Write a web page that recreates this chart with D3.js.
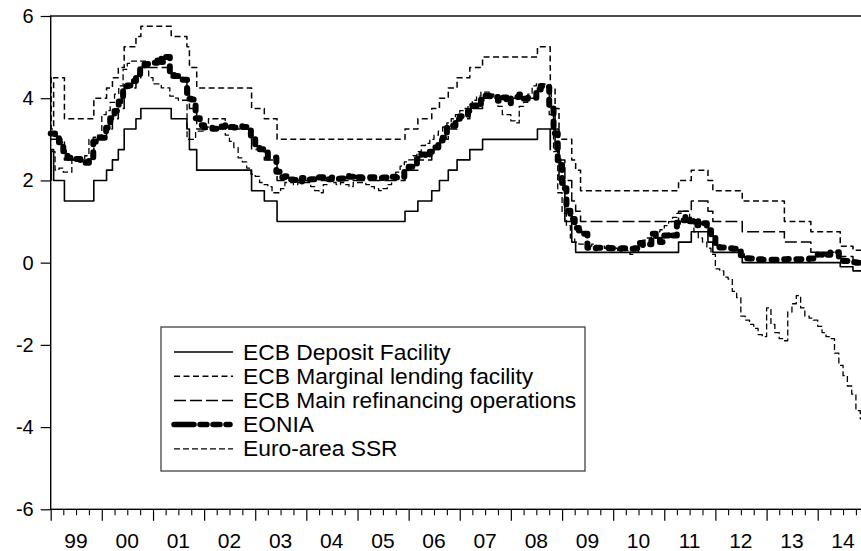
<!DOCTYPE html>
<html>
<head>
<meta charset="utf-8">
<script src="https://cdn.jsdelivr.net/npm/d3@7"></script>
<style>
  html, body { margin: 0; padding: 0; background: #fff; overflow: hidden; }
  svg { display: block; }
  text { font-family: Arial, "Liberation Sans", sans-serif; fill: #000; }
</style>
</head>
<body>
<svg id="chart" width="861" height="551"></svg>
<script>
// ECB policy rate corridor: dates on which any of the three rates changed
const policyDates = [
  "1999-01-01","1999-01-04","1999-01-22","1999-04-09","1999-11-05",
  "2000-02-04","2000-03-17","2000-04-28","2000-06-09","2000-09-01","2000-10-06",
  "2001-05-11","2001-08-31","2001-09-18","2001-11-09",
  "2002-12-06","2003-03-07","2003-06-06",
  "2005-12-06","2006-03-08","2006-06-15","2006-08-09","2006-10-11","2006-12-13",
  "2007-03-14","2007-06-13","2008-07-09","2008-10-08","2008-10-09","2008-10-15",
  "2008-11-12","2008-12-10","2009-01-21","2009-03-11","2009-04-08","2009-05-13",
  "2011-04-13","2011-07-13","2011-11-09","2011-12-14","2012-07-11",
  "2013-05-08","2013-11-13","2014-06-11","2014-09-10","2014-12-31"
];
const depositFacility = [
  2.00,2.75,2.00,1.50,2.00,
  2.25,2.50,2.75,3.25,3.50,3.75,
  3.50,3.25,2.75,2.25,
  1.75,1.50,1.00,
  1.25,1.50,1.75,2.00,2.25,2.50,
  2.75,3.00,3.25,2.75,3.25,3.25,
  2.75,2.00,1.00,0.50,0.25,0.25,
  0.50,0.75,0.50,0.25,0.00,
  0.00,0.00,-0.10,-0.20,-0.20
];
const marginalLending = [
  4.50,3.25,4.50,3.50,4.00,
  4.25,4.50,4.75,5.25,5.50,5.75,
  5.50,5.25,4.75,4.25,
  3.75,3.50,3.00,
  3.25,3.50,3.75,4.00,4.25,4.50,
  4.75,5.00,5.25,4.75,4.25,4.25,
  3.75,3.00,3.00,2.50,2.25,1.75,
  2.00,2.25,2.00,1.75,1.50,
  1.00,0.75,0.40,0.30,0.30
];
const mainRefinancing = [
  3.00,3.00,3.00,2.50,3.00,
  3.25,3.50,3.75,4.25,4.50,4.75,
  4.50,4.25,3.75,3.25,
  2.75,2.50,2.00,
  2.25,2.50,2.75,3.00,3.25,3.50,
  3.75,4.00,4.25,4.25,4.25,3.75,
  3.25,2.50,2.00,1.50,1.25,1.00,
  1.25,1.50,1.25,1.00,0.75,
  0.50,0.25,0.15,0.05,0.05
];

// Monthly series, January 1999 onwards
const seriesStart = "1999-01-01";
const eonia = [
  3.14,3.12,2.93,2.71,2.55,2.56,2.52,2.44,2.43,2.50,2.94,3.04,
  3.04,3.28,3.51,3.69,3.92,4.29,4.31,4.42,4.59,4.76,4.83,4.83,
  4.86,4.99,4.88,5.00,4.65,4.54,4.51,4.45,3.99,3.97,3.51,3.34,
  3.29,3.28,3.26,3.32,3.31,3.35,3.30,3.29,3.32,3.30,3.30,3.09,
  2.79,2.76,2.75,2.56,2.56,2.21,2.08,2.10,2.02,2.01,1.97,2.06,
  2.02,2.03,2.01,2.08,2.02,2.03,2.07,2.04,2.05,2.11,2.09,2.05,
  2.08,2.06,2.06,2.08,2.07,2.06,2.07,2.06,2.09,2.07,2.09,2.28,
  2.33,2.35,2.52,2.63,2.58,2.70,2.81,2.97,3.04,3.28,3.33,3.50,
  3.56,3.57,3.69,3.82,3.79,3.96,4.06,4.05,4.03,3.94,4.02,3.88,
  4.02,4.03,4.09,3.99,4.01,4.01,4.19,4.30,4.27,3.82,3.15,2.49,
  1.81,1.26,1.06,0.84,0.78,0.70,0.36,0.35,0.36,0.36,0.36,0.35,
  0.34,0.34,0.35,0.35,0.34,0.35,0.48,0.43,0.45,0.70,0.59,0.50,
  0.66,0.71,0.66,0.97,1.03,1.12,1.01,0.91,1.01,0.96,0.79,0.63,
  0.38,0.37,0.36,0.35,0.34,0.33,0.18,0.11,0.10,0.09,0.08,0.07,
  0.07,0.07,0.07,0.08,0.08,0.09,0.09,0.08,0.08,0.09,0.10,0.17,
  0.20,0.16,0.19,0.25,0.25,0.08,0.04,0.02,0.01,0.00,-0.01,-0.03
];
const shadowRate = [
  2.70,2.25,2.30,2.20,2.20,2.50,2.50,2.50,2.60,3.00,3.05,3.10,
  3.60,3.70,3.90,4.10,4.30,4.70,4.85,4.90,4.90,4.90,4.90,4.50,
  4.35,4.35,4.25,4.25,4.05,4.00,3.95,3.95,3.00,3.00,3.20,3.20,
  3.30,3.50,3.50,3.50,3.50,3.10,2.95,2.80,2.55,2.45,2.30,2.15,
  2.10,1.95,1.90,1.85,1.70,1.70,1.80,1.95,1.95,1.90,1.95,1.95,
  1.95,1.85,1.75,1.70,1.90,2.00,1.95,1.90,1.95,1.90,1.85,1.95,
  1.95,1.95,1.90,1.85,1.80,1.75,1.80,1.90,2.00,2.20,2.35,2.45,
  2.50,2.60,2.70,2.85,2.90,3.00,3.10,3.20,3.30,3.40,3.50,3.60,
  3.70,3.75,3.85,3.95,4.05,4.15,4.15,4.10,4.00,3.80,3.60,3.60,
  3.45,3.40,3.80,3.90,4.10,4.30,4.35,4.35,4.30,3.60,2.70,1.70,
  1.20,0.90,0.60,0.50,0.45,0.50,0.40,0.45,0.40,0.40,0.35,0.40,
  0.35,0.30,0.30,0.30,0.20,0.25,0.45,0.55,0.60,0.75,0.75,0.80,
  0.90,1.00,1.10,1.20,1.25,1.25,1.10,0.75,0.60,0.50,0.35,0.20,
  -0.15,-0.20,-0.35,-0.40,-0.70,-0.85,-1.30,-1.40,-1.50,-1.60,-1.75,-1.80,
  -1.10,-1.50,-1.70,-1.85,-1.90,-1.20,-1.00,-0.80,-1.10,-1.30,-1.35,-1.40,
  -1.55,-1.70,-1.80,-1.85,-2.20,-2.50,-2.75,-3.00,-3.20,-3.60,-3.80,-3.90
];

const yearLabels = ["99","00","01","02","03","04","05","06","07","08","09","10","11","12","13","14"];
const yTicks = [-6,-4,-2,0,2,4,6];

const legendItems = [
  { label: "ECB Deposit Facility", key: "df" },
  { label: "ECB Marginal lending facility", key: "mlf" },
  { label: "ECB Main refinancing operations", key: "mro" },
  { label: "EONIA", key: "eonia" },
  { label: "Euro-area SSR", key: "ssr" }
];

const styles = {
  df:    { width: 1.6, dash: null, cap: "butt" },
  mlf:   { width: 1.5, dash: "6,3.5", cap: "butt" },
  mro:   { width: 1.5, dash: "12,4", cap: "butt" },
  eonia: { width: 6, dash: "5,8", cap: "round" },
  ssr:   { width: 1.3, dash: "6,3", cap: "butt" }
};

const parse = d3.timeParse("%Y-%m-%d");
const svg = d3.select("#chart");

const plotLeft = 50.7, plotTop = 16, plotRight = 868.8, plotBottom = 509.3;

const x = d3.scaleTime()
  .domain([parse("1999-01-01"), parse("2015-01-01")])
  .range([plotLeft, plotRight]);
const y = d3.scaleLinear().domain([-6, 6]).range([plotBottom, plotTop]);

const policyX = policyDates.map(parse);
const monthX = eonia.map((_, i) => d3.timeMonth.offset(parse(seriesStart), i));

const series = {
  df:    policyX.map((d, i) => [d, depositFacility[i]]),
  mlf:   policyX.map((d, i) => [d, marginalLending[i]]),
  mro:   policyX.map((d, i) => [d, mainRefinancing[i]]),
  eonia: monthX.map((d, i) => [d, eonia[i]]),
  ssr:   monthX.map((d, i) => [d, shadowRate[i]])
};

const line = d3.line()
  .x(d => x(d[0]))
  .y(d => y(d[1]))
  .curve(d3.curveStepAfter);

const plot = svg.append("g");
["df", "mlf", "mro", "eonia", "ssr"].forEach(k => {
  const s = styles[k];
  plot.append("path")
    .datum(series[k])
    .attr("d", line)
    .attr("fill", "none")
    .attr("stroke", "#000")
    .attr("stroke-width", s.width)
    .attr("stroke-dasharray", s.dash)
    .attr("stroke-linecap", s.cap)
    .attr("stroke-linejoin", "round");
});

// frame
svg.append("rect")
  .attr("x", plotLeft).attr("y", plotTop)
  .attr("width", plotRight - plotLeft).attr("height", plotBottom - plotTop)
  .attr("fill", "none").attr("stroke", "#000").attr("stroke-width", 1.4);

// y axis (plain hyphen for negatives)
const yAxis = svg.append("g")
  .attr("transform", `translate(${plotLeft},0)`)
  .call(d3.axisLeft(y).tickValues(yTicks).tickSize(10).tickPadding(7).tickFormat(d => String(d)));
yAxis.select(".domain").remove();
yAxis.selectAll("line").attr("stroke", "#000").attr("stroke-width", 1.2);
yAxis.selectAll("text").style("font-size", "20px").attr("fill", "#000");

// x axis: year ticks, quarter ticks, year labels centred in each year
const years = d3.timeYear.range(parse("1999-01-01"), parse("2015-01-02"));
const quarters = d3.timeMonth.every(3).range(parse("1999-01-01"), parse("2015-01-01"))
  .filter(d => d.getMonth() !== 0);
const xMajor = svg.append("g")
  .attr("transform", `translate(0,${plotBottom})`)
  .call(d3.axisBottom(x).tickValues(years).tickSize(11.5).tickFormat(""));
xMajor.select(".domain").remove();
xMajor.selectAll("line").attr("stroke", "#000").attr("stroke-width", 1.2);
const xMinor = svg.append("g")
  .attr("transform", `translate(0,${plotBottom})`)
  .call(d3.axisBottom(x).tickValues(quarters).tickSize(6).tickFormat(""));
xMinor.select(".domain").remove();
xMinor.selectAll("line").attr("stroke", "#000").attr("stroke-width", 1.1);

svg.append("g").selectAll("text")
  .data(yearLabels)
  .join("text")
  .attr("x", (d, i) => x(d3.timeMonth.offset(years[i], 6)))
  .attr("y", 548)
  .attr("text-anchor", "middle")
  .style("font-size", "21px")
  .text(d => d);

// legend
const lg = svg.append("g");
lg.append("rect")
  .attr("x", 161).attr("y", 327).attr("width", 424).attr("height", 144)
  .attr("fill", "#fff").attr("stroke", "#333").attr("stroke-width", 1.2);
legendItems.forEach((it, i) => {
  const cy = 352 + i * 24.2;
  const s = styles[it.key];
  lg.append("line")
    .attr("x1", 174).attr("x2", it.key === "eonia" ? 230 : 233)
    .attr("y1", cy).attr("y2", cy)
    .attr("stroke", "#000")
    .attr("stroke-width", it.key === "eonia" ? 5.5 : s.width)
    .attr("stroke-dasharray", it.key === "eonia" ? "20,6,7,6,7,6" : s.dash)
    .attr("stroke-linecap", s.cap);
  lg.append("text")
    .attr("x", 243).attr("y", cy + 7.5)
    .style("font-size", "22.8px")
    .text(it.label);
});
</script>
</body>
</html>
